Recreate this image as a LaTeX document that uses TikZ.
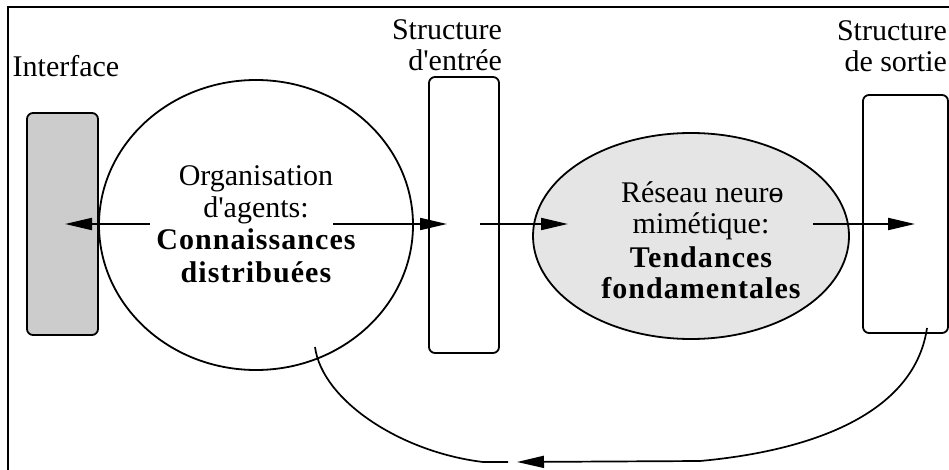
\documentclass[tikz,border=0pt]{standalone}
\usepackage{fontspec}
\setmainfont{Liberation Serif}
\newfontfamily\spacedfont[LetterSpace=3.5]{Liberation Serif}
\usetikzlibrary{shapes.geometric,arrows.meta}
\begin{document}
\begin{tikzpicture}[x=1pt,y=-1pt,line width=1.8pt,
  box/.style={draw,rounded corners=6pt,inner sep=0pt,line width=1.8pt},
  oval/.style={draw,ellipse,inner sep=0pt,line width=1.8pt},
  arr/.style={-{Triangle[length=27pt,width=12pt]},line width=2pt},
  txt/.style={font=\fontsize{30}{32.3}\selectfont,inner sep=0pt,align=center},
  lbl/.style={font=\fontsize{30}{31}\selectfont,inner sep=0pt,align=right}]
\useasboundingbox (0,0) rectangle (949,470);
% frame
\coordinate (fr1) at (8,470);
\coordinate (fr2) at (8,7);
\coordinate (fr3) at (949,7);
\draw[line width=2pt] (fr1) -- (fr2) -- (fr3);
% shapes
\node[box,fill=black!20,minimum width=71pt,minimum height=222pt] (iface) at (62.5,224) {};
\node[box,minimum width=70pt,minimum height=276pt] (entree) at (464,215) {};
\node[box,minimum width=85pt,minimum height=238pt] (sortie) at (905.5,214) {};
\node[oval,minimum width=314pt,minimum height=290pt] (agents) at (256,225) {};
\node[oval,fill=black!10,minimum width=316pt,minimum height=206pt] (reseau) at (691,236) {};
% labels
\node[lbl,anchor=base] (lint) at (66,77) {Interface};
\node[lbl,anchor=center] (lent) at (447,45) {Structure\\d\textquotesingle entrée};
\node[lbl,anchor=center] (lsor) at (892,46) {Structure\\de sortie};
% texts
\node[txt] (tagents) at (256,224) {Organisation\\d\textquotesingle agents:\\{\spacedfont\bfseries Connaissances}\\{\spacedfont\bfseries distribuées}};
\node[txt,font=\fontsize{30}{30.5}\selectfont] (treseau) at (701,240) {Réseau neuro\kern-0.42em-\\mimétique:\\[4pt]{\spacedfont\bfseries Tendances}\\{\spacedfont\bfseries fondamentales}};
% arrows
\coordinate (a1s) at (150,224);
\coordinate (a1e) at (65,224);
\coordinate (a2s) at (333,224);
\coordinate (a2e) at (447,224);
\coordinate (a3s) at (480,224);
\coordinate (a3e) at (568,224);
\coordinate (a4s) at (813,224);
\coordinate (a4e) at (915,224);
\draw[arr] (a1s) -- (a1e);
\draw[arr] (a2s) -- (a2e);
\draw[arr] (a3s) -- (a3e);
\draw[arr] (a4s) -- (a4e);
% feedback
\coordinate (fb0) at (927,328);
\coordinate (fb1) at (700,461);
\coordinate (fb2) at (517,462);
\coordinate (fb3) at (508,462);
\coordinate (fb4) at (483,462);
\coordinate (fb5) at (315,347);
\draw[arr,line width=1.7pt] (fb0) .. controls (915,410) and (820,450) .. (fb1) -- (fb2);
\draw[line width=1.7pt] (fb3) -- (fb4) .. controls (400,452) and (322,400) .. (fb5);
\end{tikzpicture}
\end{document}
